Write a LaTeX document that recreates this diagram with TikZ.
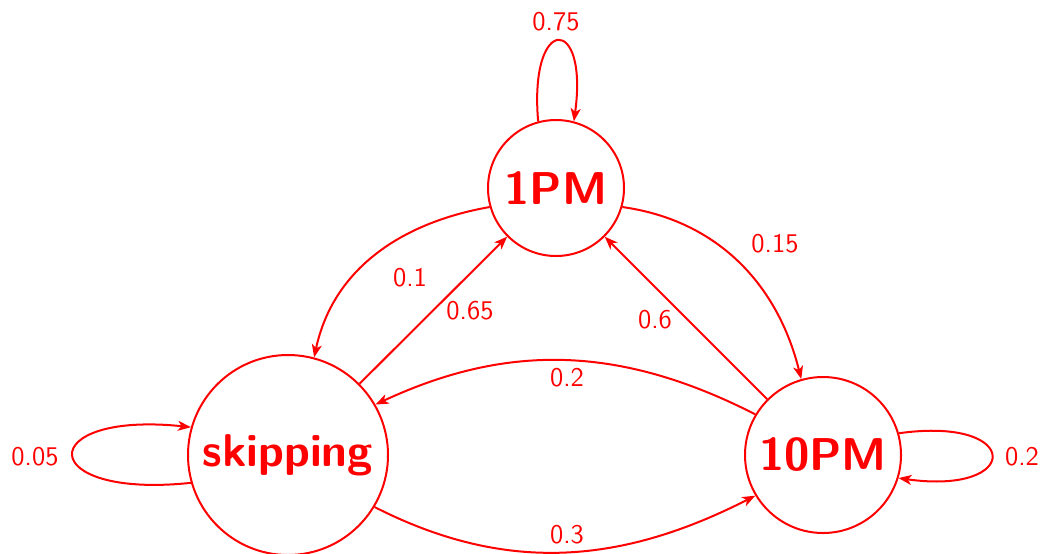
\documentclass[tikz,border=0pt]{standalone}
\usetikzlibrary{arrows.meta}
\definecolor{myred}{RGB}{255,0,0}
\begin{document}
\begin{tikzpicture}[x=0.5pt,y=0.5pt,
  state/.style={circle,draw=myred,line width=1pt,inner sep=0pt,text=myred,font=\fontsize{23}{27}\selectfont\sffamily\bfseries},
  edge/.style={draw=myred,line width=1pt,-{Stealth[length=6.5pt,width=5pt,inset=1.8pt]}},
  lbl/.style={text=myred,font=\fontsize{13.5}{16}\selectfont\sffamily,inner sep=1pt}]
\useasboundingbox (0,0) rectangle (1043,-553);
\node[state,minimum size=68pt] (p1) at (556,-188) {1PM};
\node[state,minimum size=100pt] (sk) at (288,-455) {skipping};
\node[state,minimum size=78pt] (p10) at (823,-455) {10PM};
% self loops
\draw[edge] (p1.105) .. controls +(95:108) and +(82:108) .. (p1.75);
\node[lbl] (l075) at (556,-22) {0.75};
\draw[edge] (sk.196) .. controls +(186:158) and +(174:158) .. (sk.164);
\node[lbl] (l005) at (35,-457) {0.05};
\draw[edge] (p10.16) .. controls +(8:125) and +(-8:125) .. (p10.-17);
\node[lbl] (l02b) at (1022,-457) {0.2};
% curved edges
\draw[edge] (p1.196) to[out=190,in=78] (sk.75);
\node[lbl] (l01) at (410,-278) {0.1};
\draw[edge] (p1.-16) to[out=-8,in=104] (p10.106);
\node[lbl] (l015) at (775,-244) {0.15};
\draw[edge] (p10.149) to[out=153,in=25] (sk.30);
\node[lbl] (l02) at (567,-378) {0.2};
\draw[edge] (sk.-31) to[out=-27,in=207] (p10.211);
\node[lbl] (l03) at (567,-535) {0.3};
% straight edges
\draw[edge] (sk) -- (p1);
\node[lbl] (l065) at (470,-311) {0.65};
\draw[edge] (p10) -- (p1);
\node[lbl] (l06) at (655,-320) {0.6};
\end{tikzpicture}
\end{document}
